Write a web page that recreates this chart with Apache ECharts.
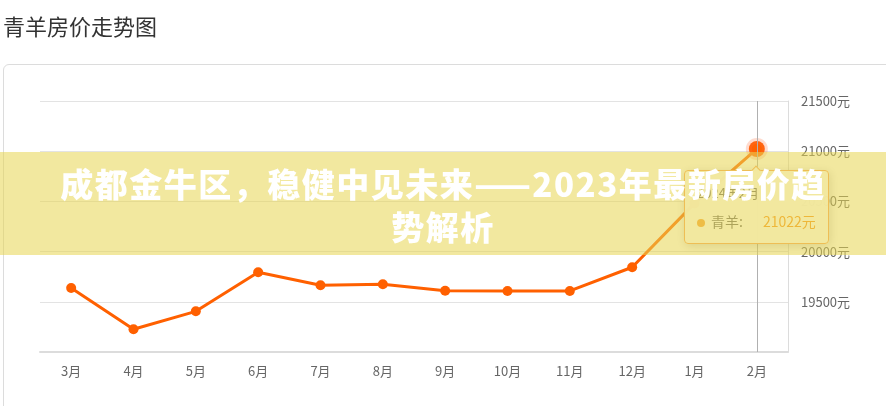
<!DOCTYPE html>
<html>
<head>
<meta charset="utf-8">
<script src="https://cdn.jsdelivr.net/npm/echarts@6/dist/echarts.min.js"></script>
<style>
  html, body { margin:0; padding:0; background:#fff; width:886px; height:406px; overflow:hidden; font-family:"Noto Sans CJK SC","Noto Sans",sans-serif; }
  #panel { position:absolute; left:3px; top:64px; width:920px; height:420px; border:1px solid #dcdcdc; border-radius:6px; box-sizing:border-box; }
  #chart { position:absolute; left:0; top:0; width:886px; height:406px; }
  #banner { position:absolute; left:0; top:152px; width:886px; height:103px; background:rgba(232,214,80,0.55); z-index:100;
            box-sizing:border-box; padding-top:10px; text-align:center; color:#fff; font-family:"Noto Sans CJK SC",sans-serif;
            font-weight:900; font-size:33px; letter-spacing:1.5px; line-height:43px; white-space:nowrap; }
</style>
</head>
<body>
<div id="panel"></div>
<div id="chart"></div>
<div id="banner">成都金牛区，稳健中见未来——2023年最新房价趋<br>势解析</div>
<script>
const pageTitle = '青羊房价走势图';
const seriesName = '青羊';
const months = ['3月','4月','5月','6月','7月','8月','9月','10月','11月','12月','1月','2月'];
const prices = [19637, 19226, 19405, 19794, 19664, 19674, 19610, 19608, 19608, 19844, 20480, 21022];
const tipTitle = '2024年2月';
const yMin = 19000, yMax = 21500, yStep = 500;

const chart = echarts.init(document.getElementById('chart'), null, {renderer:'canvas'});
const lastIdx = prices.length - 1;
const seriesData = prices.map((v, i) => i === lastIdx
  ? { value: v, symbolSize: 16, itemStyle: { color:'#ff6000', borderColor:'rgba(255,110,60,0.25)', borderWidth:6 } }
  : v);

chart.setOption({
  animation: false,
  textStyle: { fontFamily: '"Noto Sans CJK SC","Noto Sans",sans-serif' },
  title: { text: pageTitle, left: 0, top: 16, padding: [0,0,0,3],
           textStyle: { fontSize: 22, fontWeight: 'normal', color: '#333' } },
  grid: { left: 40, right: 98, top: 101, bottom: 54 },
  tooltip: {
    trigger: 'item', position: 'bottom', alwaysShowContent: true, transitionDuration: 0,
    backgroundColor: 'rgba(255,255,255,0.96)', borderColor: '#f5a35c', borderWidth: 1,
    padding: [12, 12], textStyle: { fontSize: 14, color: '#666' },
    extraCssText: 'z-index:50;',
    formatter: function (p) {
      return '<div style="line-height:20px;font-size:13px;color:#666">' + tipTitle + '</div>' +
        '<div style="line-height:20px;margin-top:8px;color:#666">' +
        '<span style="display:inline-block;width:8px;height:8px;border-radius:4px;background:#f7a13a;margin-right:6px;vertical-align:middle"></span>' +
        p.seriesName + ':<span style="color:#f7931e;margin-left:20px">' + p.value + '元</span></div>';
    }
  },
  xAxis: {
    type: 'category', data: months, boundaryGap: true,
    axisLine: { lineStyle: { color: '#dcdcdc', width: 2 } },
    axisTick: { alignWithLabel: true, length: 5, lineStyle: { color: '#dcdcdc' } },
    axisLabel: { color: '#666', fontSize: 13, margin: 13 }
  },
  yAxis: {
    type: 'value', position: 'right', min: yMin, max: yMax, interval: yStep,
    axisLine: { show: true, lineStyle: { color: '#dcdcdc' } },
    axisTick: { show: false },
    axisLabel: { color: '#666', fontSize: 13, margin: 13, showMinLabel: false,
                 formatter: function (v) { return v + '元'; } },
    splitLine: { lineStyle: { color: '#e3e3e3' } }
  },
  series: [{
    name: seriesName, type: 'line', data: seriesData,
    symbol: 'circle', symbolSize: 10,
    itemStyle: { color: '#ff6000' },
    lineStyle: { color: '#ff6000', width: 3 },
    markLine: {
      silent: true, symbol: ['none','none'], label: { show: false },
      lineStyle: { color: '#b0b0b0', width: 1, type: 'solid' },
      data: [{ xAxis: months[lastIdx] }]
    }
  }]
});
chart.dispatchAction({ type: 'showTip', seriesIndex: 0, dataIndex: lastIdx });
</script>
</body>
</html>
